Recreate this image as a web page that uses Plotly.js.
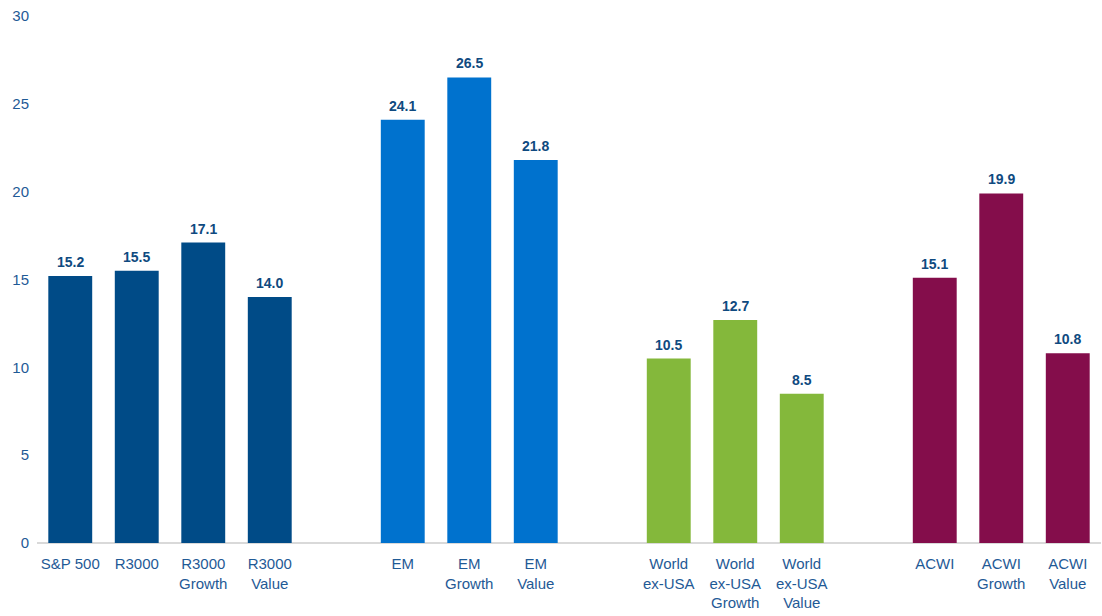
<!DOCTYPE html>
<html>
<head>
<meta charset="utf-8">
<script src="https://cdn.plot.ly/plotly-3.0.1.min.js"></script>
<style>html,body{margin:0;padding:0;background:#fff;}#chart{width:1102px;height:616px;}</style>
</head>
<body>
<div id="chart"></div>
<script>
// Data
const groupNames = ["US", "EM", "World ex-USA", "ACWI"];
const groupLabels = [
  ["S&P 500", "R3000", "R3000<br>Growth", "R3000<br>Value"],
  ["EM", "EM<br>Growth", "EM<br>Value"],
  ["World<br>ex-USA", "World<br>ex-USA<br>Growth", "World<br>ex-USA<br>Value"],
  ["ACWI", "ACWI<br>Growth", "ACWI<br>Value"]
];
const groupValues = [
  [15.2, 15.5, 17.1, 14.0],
  [24.1, 26.5, 21.8],
  [10.5, 12.7, 8.5],
  [15.1, 19.9, 10.8]
];
const groupColors = ["#004B87", "#0072CE", "#84B83B", "#840D4B"];
const yTicks = [0, 5, 10, 15, 20, 25, 30];

// Build positions: one empty slot between groups
const traces = [];
const annotations = [];
const tickvals = [];
const ticktext = [];
let pos = 0;
groupNames.forEach((g, gi) => {
  const xs = [];
  groupLabels[gi].forEach((lab, i) => {
    xs.push(pos);
    tickvals.push(pos);
    ticktext.push(lab);
    annotations.push({
      x: pos, y: groupValues[gi][i], xref: "x", yref: "y",
      text: groupValues[gi][i].toFixed(1),
      showarrow: false, yanchor: "bottom", yshift: 4,
      font: {family: "Liberation Sans, Arial, sans-serif", size: 14, color: "#0F4A80", weight: "bold"}
    });
    pos += 1;
  });
  pos += 1;
  traces.push({
    type: "bar",
    name: g,
    x: xs,
    y: groupValues[gi],
    width: 0.66,
    marker: {color: groupColors[gi]},
    hoverinfo: "x+y"
  });
});

const layout = {
  width: 1102,
  height: 616,
  margin: {l: 37, r: 1, t: 16, b: 73},
  paper_bgcolor: "#ffffff",
  plot_bgcolor: "#ffffff",
  showlegend: false,
  font: {family: "Liberation Sans, Arial, sans-serif", size: 15, color: "#1F5A96"},
  annotations: annotations,
  xaxis: {
    range: [-0.5, pos - 1.5],
    tickvals: tickvals,
    ticktext: ticktext,
    showgrid: false,
    zeroline: false,
    showline: false,
    ticks: "",
    ticklabelstandoff: 10,
    tickfont: {size: 15, color: "#1F5A96"},
    fixedrange: true
  },
  yaxis: {
    range: [0, 30],
    tickvals: yTicks,
    showgrid: false,
    zeroline: true,
    zerolinecolor: "#D9D9D9",
    zerolinewidth: 1.5,
    showline: false,
    ticks: "",
    ticklabelstandoff: 7,
    tickfont: {size: 15, color: "#1F5A96"},
    fixedrange: true
  }
};

Plotly.newPlot("chart", traces, layout, {displayModeBar: false, staticPlot: true});
</script>
</body>
</html>
